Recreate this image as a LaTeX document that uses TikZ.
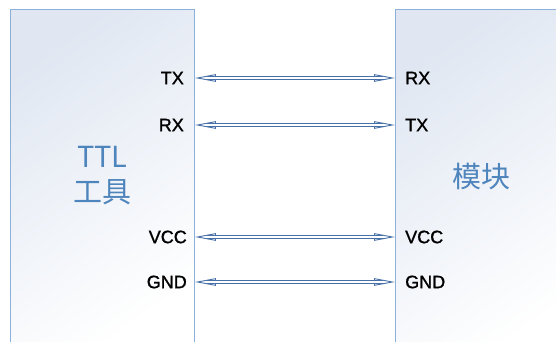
\documentclass[tikz,border=0pt]{standalone}
\usepackage{fontspec}
\setmainfont{Noto Sans CJK SC}
\newfontfamily\pinfont[FakeBold=1.3]{Liberation Sans}
\usetikzlibrary{arrows.meta}

\definecolor{boxline}{RGB}{140,176,218}
\definecolor{boxtop}{RGB}{224,231,242}
\definecolor{wire}{RGB}{72,112,168}
\definecolor{title}{RGB}{79,133,189}

\tikzset{
  block/.style={draw=boxline, line width=0.9pt, shading=axis, top color=boxtop, bottom color=white, shading angle=35},
  pinlabel/.style={font=\pinfont\fontsize{18}{18}\selectfont, inner sep=0pt},
  blockname/.style={font=\fontsize{29}{35}\selectfont, text=title, inner sep=0pt, align=center},
  wirehead/.style={draw=wire, line width=0.9pt, arrows={Triangle[open, length=21pt, width=7.5pt]-Triangle[open, length=21pt, width=7.5pt]}},
  wirebody/.style={draw=wire, line width=0.9pt, double=white, double distance=1.8pt, shorten <=12pt, shorten >=12pt}
}

\begin{document}
\begin{tikzpicture}[x=1pt, y=1pt]
  \clip (0,0) rectangle (556,342);
  \useasboundingbox (0,0) rectangle (556,342);
  % boxes
  \node[block, minimum width=184pt, minimum height=340pt, anchor=north west] (ttl) at (10,333) {};
  \node[block, minimum width=200pt, minimum height=340pt, anchor=north west] (mod) at (395,333) {};
  % titles
  \node[blockname] (ttlname) at (102.5,166) {TTL\\工具};
  \node[blockname] (modname) at (481,165) {模块};
  % pins of the TTL tool
  \node[pinlabel, anchor=east] (ltx) at (184,264) {TX};
  \node[pinlabel, anchor=east] (lrx) at (184,217) {RX};
  \node[pinlabel, anchor=east] (lvcc) at (187,105) {VCC};
  \node[pinlabel, anchor=east] (lgnd) at (187,60) {GND};
  % pins of the module
  \node[pinlabel, anchor=west] (rrx) at (405,264) {RX};
  \node[pinlabel, anchor=west] (rtx) at (405,217) {TX};
  \node[pinlabel, anchor=west] (rvcc) at (405,105) {VCC};
  \node[pinlabel, anchor=west] (rgnd) at (405,60) {GND};
  % wires
  \foreach \a/\b in {ltx/rrx, lrx/rtx, lvcc/rvcc, lgnd/rgnd} {
    \draw[wirehead] (ttl.east |- \a.east) -- (mod.west |- \b.west);
    \draw[wirebody] (ttl.east |- \a.east) -- (mod.west |- \b.west);
  }
\end{tikzpicture}
\end{document}
